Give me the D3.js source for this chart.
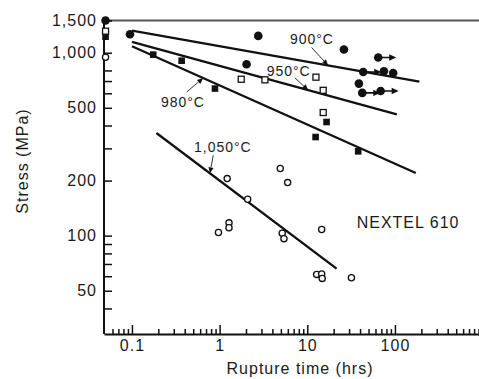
<!DOCTYPE html>
<html>
<head>
<meta charset="utf-8">
<script src="https://cdn.jsdelivr.net/npm/d3@7"></script>
<style>
	body { margin: 0; background: #fff; }
	svg { display: block; }
	text { font-family: 'Liberation Sans', Arial, Helvetica, sans-serif; fill: #1a1a1a; }
</style>
</head>
<body>
<div id="chart"></div>
<script>
// axis ticks
const xMajor = [0.1, 1, 10, 100];
const xMinor = [0.06, 0.07, 0.08, 0.09, 0.2, 0.3, 0.4, 0.5, 0.6, 0.7, 0.8, 0.9,
	2, 3, 4, 5, 6, 7, 8, 9, 20, 30, 40, 50, 60, 70, 80, 90,
	200, 300, 400, 500, 600, 700, 800, 900];
const yMajor = [1500, 1000, 500, 200, 100, 50];
const yMinor = [800, 700, 600, 400, 300, 90, 80, 70, 60, 40];

// [rupture time (hrs), stress (MPa), runout]
const points900 = [[0.05, 1500, 0], [0.095, 1262, 0], [2.76, 1236, 0], [2.03, 865, 0], [26.2, 1041, 0],
	[64.5, 941, 1], [43.5, 785, 1], [74.9, 792, 0], [95.5, 775, 0], [38.8, 678, 0],
	[42.4, 603, 1], [68.7, 618, 1]];
const points950 = [[0.05, 1311], [1.765, 716], [3.29, 711], [12.56, 735], [15.2, 623], [15.2, 471]];
const points980 = [[0.05, 1223], [0.175, 976], [0.369, 904], [0.886, 637], [16.6, 418], [12.45, 346], [38.1, 289]];
const points1050 = [[0.05, 945], [1.22, 205], [2.09, 158], [4.92, 233], [5.97, 195], [1.28, 117.5],
	[1.28, 110.5], [0.97, 104], [5.18, 103], [5.42, 96.3], [14.6, 108], [12.8, 61.4],
	[14.6, 61.8], [14.8, 58.4], [31.9, 58.9]];

// fitted lines per temperature
const temps = ['900°C', '950°C', '980°C', '1,050°C'];
const fitStart = [[0.1, 1320], [0.1, 1145], [0.1, 1085], [0.19, 364]];
const fitEnd = [[190, 695], [105, 460], [173, 220], [21.6, 66]];

// label anchors and leader lines
const labelPos = [[6.34, 1113], [3.44, 744], [0.214, 505], [0.51, 287]];
const leaderFrom = [[11.2, 1068], [7.23, 728], [0.421, 610], [0.846, 275]];
const leaderTipTime = [17.3, 10.26, 0.65, 0.776];

const materialLabel = 'NEXTEL 610';
const materialPos = [36.6, 110.6];

const WIDTH = 479, HEIGHT = 379;

const svg = d3.select('#chart').append('svg')
	.attr('width', WIDTH)
	.attr('height', HEIGHT);

const xScale = d3.scaleLog().domain([0.048, 910]).range([104, 479]);
const yScale = d3.scaleLog().domain([29, 1500]).range([334, 20.5]);

const fmt = d3.format(',');

// top frame line
svg.append('line')
	.attr('x1', xScale.range()[0])
	.attr('x2', xScale.range()[1])
	.attr('y1', yScale(1500))
	.attr('y2', yScale(1500))
	.attr('stroke', '#555')
	.attr('stroke-width', 2);

const styleAxis = (g) => {
	g.attr('font-family', null).attr('font-size', null);
	g.selectAll('.tick line').attr('stroke', '#111').attr('stroke-width', 1.5);
	g.selectAll('text').attr('font-size', 16).attr('letter-spacing', 1).attr('fill', '#1a1a1a');
	g.select('.domain').attr('stroke', '#111').attr('stroke-width', 2);
};

svg.append('g')
	.attr('class', 'x minor')
	.attr('transform', 'translate(0,' + yScale.range()[0] + ')')
	.call(d3.axisBottom(xScale).tickValues(xMinor).tickSize(-5).tickFormat(''))
	.call(styleAxis)
	.call(g => g.select('.domain').remove());

svg.append('g')
	.attr('class', 'x axis')
	.attr('transform', 'translate(0,' + yScale.range()[0] + ')')
	.call(d3.axisBottom(xScale).tickValues(xMajor).tickSize(-9).tickSizeOuter(0).tickPadding(6).tickFormat(fmt))
	.call(styleAxis);

svg.append('g')
	.attr('class', 'y minor')
	.attr('transform', 'translate(' + xScale.range()[0] + ',0)')
	.call(d3.axisLeft(yScale).tickValues(yMinor).tickSize(-8).tickFormat(''))
	.call(styleAxis)
	.call(g => g.select('.domain').remove());

svg.append('g')
	.attr('class', 'y axis')
	.attr('transform', 'translate(' + xScale.range()[0] + ',0)')
	.call(d3.axisLeft(yScale).tickValues(yMajor).tickSize(-8).tickSizeOuter(0).tickPadding(7).tickFormat(fmt))
	.call(styleAxis)
	.call(g => g.select('.domain').attr('d', 'M0,' + yScale.range()[1] + 'V' + yScale.range()[0]));

// axis titles
svg.append('text')
	.attr('x', 300)
	.attr('y', 374)
	.attr('text-anchor', 'middle')
	.attr('font-size', 16)
	.attr('letter-spacing', 1)
	.text('Rupture time (hrs)');

svg.append('text')
	.attr('transform', 'translate(28,161) rotate(-90)')
	.attr('text-anchor', 'middle')
	.attr('font-size', 16)
	.attr('letter-spacing', 1)
	.text('Stress (MPa)');

// fit lines
const fitLayer = svg.append('g').attr('class', 'fit-lines');
fitLayer.selectAll('.fit')
	.data(temps.map((t, i) => [fitStart[i], fitEnd[i]]))
	.enter()
	.append('path')
	.attr('class', 'fit')
	.attr('fill', 'none')
	.attr('stroke', '#111')
	.attr('stroke-width', 2.3)
	.attr('d', d3.line().x(d => xScale(d[0])).y(d => yScale(d[1])));

// stress on a fit line at a given time (log-log straight line)
const fitValue = (i, t) => {
	const a = fitStart[i], b = fitEnd[i];
	const f = (Math.log10(t) - Math.log10(a[0])) / (Math.log10(b[0]) - Math.log10(a[0]));
	return Math.pow(10, Math.log10(a[1]) + f * (Math.log10(b[1]) - Math.log10(a[1])));
};

// temperature labels with leader arrows
const labelLayer = svg.append('g').attr('class', 'labels');
temps.forEach((name, i) => {
	labelLayer.append('text')
		.attr('x', xScale(labelPos[i][0]))
		.attr('y', yScale(labelPos[i][1]))
		.attr('font-size', 14)
		.attr('letter-spacing', 1)
		.text(name);

	const x0 = xScale(leaderFrom[i][0]), y0 = yScale(leaderFrom[i][1]);
	const x1 = xScale(leaderTipTime[i]), y1 = yScale(fitValue(i, leaderTipTime[i]));
	const ang = Math.atan2(y1 - y0, x1 - x0);
	const hl = 6, hw = 2.6;
	const bx = x1 - hl * Math.cos(ang), by = y1 - hl * Math.sin(ang);

	labelLayer.append('line')
		.attr('x1', x0).attr('y1', y0)
		.attr('x2', bx).attr('y2', by)
		.attr('stroke', '#333')
		.attr('stroke-width', 1);

	labelLayer.append('path')
		.attr('d', 'M' + x1 + ',' + y1
			+ 'L' + (bx - hw * Math.sin(ang)) + ',' + (by + hw * Math.cos(ang))
			+ 'L' + (bx + hw * Math.sin(ang)) + ',' + (by - hw * Math.cos(ang)) + 'Z')
		.attr('fill', '#111');
});

svg.append('text')
	.attr('x', xScale(materialPos[0]))
	.attr('y', yScale(materialPos[1]))
	.attr('font-size', 16)
	.attr('letter-spacing', 1)
	.text(materialLabel);

// markers
const markLayer = svg.append('g').attr('class', 'points');

// runout arrows first so following dots sit on top
const runouts = points900.filter(d => d[2] === 1);
markLayer.selectAll('.runout')
	.data(runouts)
	.enter()
	.append('path')
	.attr('class', 'runout')
	.attr('d', d => {
		const cx = xScale(d[0]), cy = yScale(d[1]);
		return 'M' + cx + ',' + (cy - 0.8) + 'H' + (cx + 11) + 'V' + (cy - 3.2)
			+ 'L' + (cx + 18) + ',' + cy
			+ 'L' + (cx + 11) + ',' + (cy + 3.2) + 'V' + (cy + 0.8) + 'H' + cx + 'Z';
	})
	.attr('fill', '#111');

markLayer.selectAll('.p900')
	.data(points900)
	.enter()
	.append('circle')
	.attr('class', 'p900')
	.attr('cx', d => xScale(d[0]))
	.attr('cy', d => yScale(d[1]))
	.attr('r', 4.3)
	.attr('fill', '#111');

markLayer.selectAll('.p980')
	.data(points980)
	.enter()
	.append('rect')
	.attr('class', 'p980')
	.attr('x', d => xScale(d[0]) - 3.3)
	.attr('y', d => yScale(d[1]) - 3.3)
	.attr('width', 6.6)
	.attr('height', 6.6)
	.attr('fill', '#111');

markLayer.selectAll('.p950')
	.data(points950)
	.enter()
	.append('rect')
	.attr('class', 'p950')
	.attr('x', d => xScale(d[0]) - 3)
	.attr('y', d => yScale(d[1]) - 3)
	.attr('width', 6)
	.attr('height', 6)
	.attr('fill', '#fff')
	.attr('stroke', '#111')
	.attr('stroke-width', 1.3);

markLayer.selectAll('.p1050')
	.data(points1050)
	.enter()
	.append('circle')
	.attr('class', 'p1050')
	.attr('cx', d => xScale(d[0]))
	.attr('cy', d => yScale(d[1]))
	.attr('r', 3.1)
	.attr('fill', '#fff')
	.attr('stroke', '#111')
	.attr('stroke-width', 1.3);
</script>
</body>
</html>
